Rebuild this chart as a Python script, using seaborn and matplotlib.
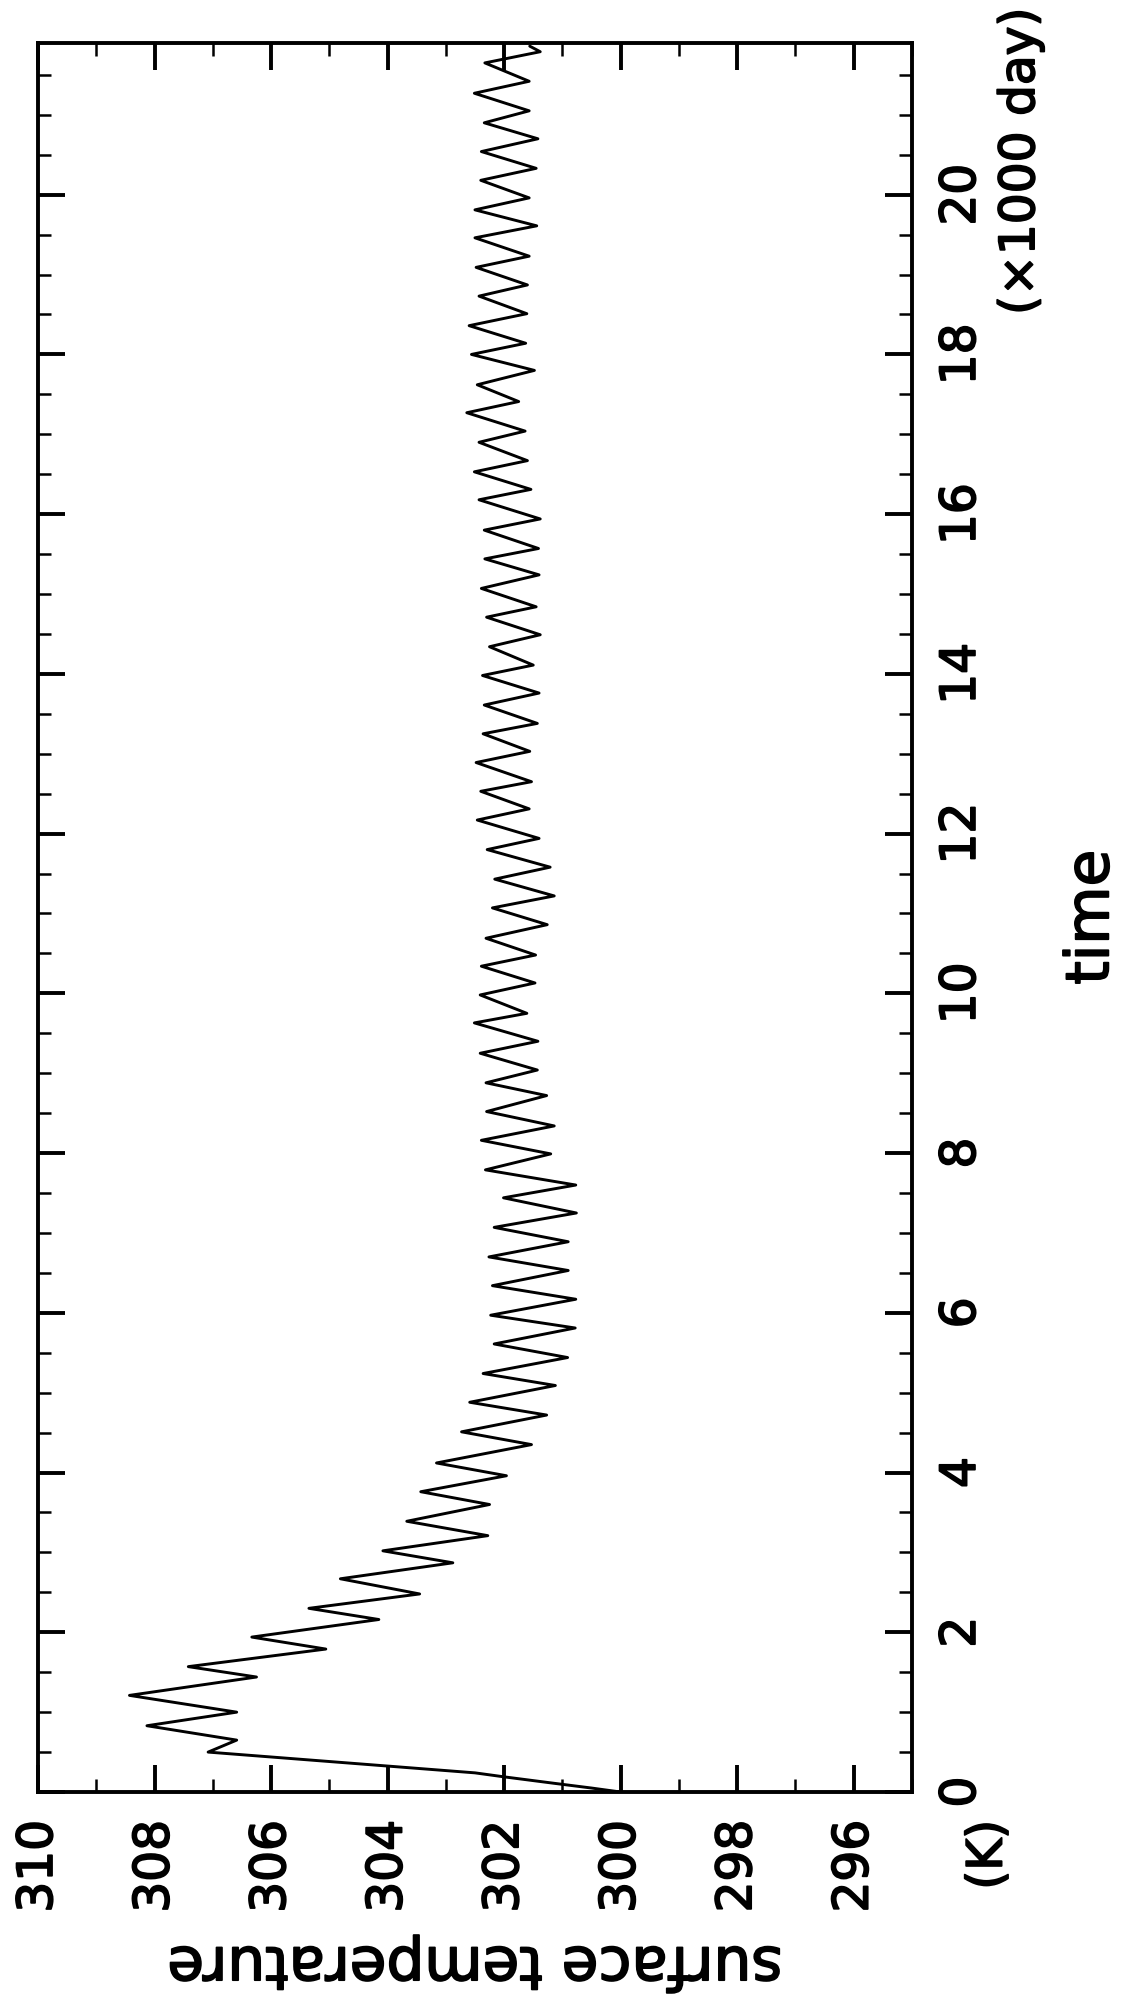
import numpy as np
import pandas as pd
import seaborn as sns
import matplotlib
matplotlib.use("Agg")
from matplotlib import pyplot as plt
from matplotlib import patheffects
from matplotlib.ticker import MultipleLocator, FixedLocator

# time in units of 1000 days, surface temperature in K (turning points)
kday = [0.00, 0.05, 0.11, 0.19, 0.24, 0.50, 0.65, 0.83, 1.00, 1.21,
        1.44, 1.57, 1.79, 1.94, 2.16, 2.30, 2.48, 2.67, 2.87, 3.02,
        3.21, 3.39, 3.60, 3.76, 3.96, 4.12, 4.35, 4.51, 4.72, 4.88,
        5.09, 5.24, 5.44, 5.61, 5.81, 5.97, 6.17, 6.34, 6.53, 6.70,
        6.89, 7.07, 7.25, 7.44, 7.60, 7.79, 7.99, 8.16, 8.34, 8.52,
        8.72, 8.88, 9.04, 9.25, 9.40, 9.63, 9.75, 9.98, 10.13, 10.34,
        10.48, 10.69, 10.86, 11.07, 11.22, 11.43, 11.58, 11.80, 11.94, 12.17,
        12.31, 12.53, 12.65, 12.89, 13.03, 13.25, 13.38, 13.61, 13.76, 13.98,
        14.11, 14.34, 14.49, 14.71, 14.84, 15.07, 15.24, 15.44, 15.57, 15.80,
        15.94, 16.18, 16.31, 16.53, 16.67, 16.90, 17.04, 17.27, 17.41, 17.62,
        17.80, 18.00, 18.14, 18.36, 18.51, 18.73, 18.87, 19.09, 19.23, 19.46,
        19.61, 19.81, 19.96, 20.18, 20.33, 20.54, 20.70, 20.90, 21.05, 21.27,
        21.42, 21.65, 21.79, 21.86]
temp = [300.00, 300.50, 301.15, 302.00, 302.50, 307.08, 306.59, 308.13, 306.59, 308.43,
        306.25, 307.42, 305.06, 306.33, 304.15, 305.35, 303.45, 304.81, 302.88, 304.08,
        302.28, 303.67, 302.25, 303.43, 301.96, 303.16, 301.53, 302.73, 301.27, 302.59,
        301.12, 302.36, 300.91, 302.17, 300.78, 302.23, 300.77, 302.20, 300.90, 302.26,
        300.90, 302.17, 300.76, 302.01, 300.77, 302.32, 301.20, 302.39, 301.14, 302.30,
        301.27, 302.31, 301.43, 302.41, 301.42, 302.51, 301.61, 302.41, 301.47, 302.39,
        301.46, 302.31, 301.26, 302.20, 301.14, 302.16, 301.21, 302.29, 301.40, 302.46,
        301.57, 302.40, 301.53, 302.48, 301.56, 302.36, 301.43, 302.34, 301.40, 302.37,
        301.50, 302.25, 301.38, 302.30, 301.45, 302.39, 301.40, 302.33, 301.41, 302.34,
        301.38, 302.43, 301.54, 302.51, 301.60, 302.43, 301.64, 302.64, 301.75, 302.46,
        301.48, 302.56, 301.63, 302.60, 301.61, 302.43, 301.60, 302.48, 301.57, 302.50,
        301.44, 302.50, 301.57, 302.40, 301.45, 302.39, 301.42, 302.34, 301.57, 302.51,
        301.57, 302.33, 301.38, 301.56]

temp_ticks = [310, 308, 306, 304, 302, 300, 298, 296]
time_ticks = [0, 2, 4, 6, 8, 10, 12, 14, 16, 18, 20]

sns.set_style("white")
plt.rcParams['font.family'] = ['DejaVu Sans']
plt.rcParams['text.color'] = 'black'
plt.rcParams['xtick.color'] = 'black'
plt.rcParams['ytick.color'] = 'black'

# the reference lettering is drawn with a heavier stroke
heavy = [patheffects.withStroke(linewidth=1.3, foreground="black")]

df = pd.DataFrame({"kday": kday, "temp": temp})

fig = plt.figure(figsize=(11.21, 20.16), dpi=100)
ax = fig.add_axes([0.0339, 0.1111, 0.7796, 0.8676])

# the figure is drawn turned on its side: time runs upward, temperature leftward
sns.lineplot(data=df, x="temp", y="kday", sort=False, estimator=None,
             color="black", linewidth=2.1, ax=ax)
for ln in ax.get_lines():
    ln.set_solid_joinstyle("round")
ax.set_xlabel("")
ax.set_ylabel("")

ax.set_xlim(310, 295)
ax.set_ylim(0, 21.9)
ax.xaxis.set_major_locator(FixedLocator(temp_ticks))
ax.xaxis.set_minor_locator(MultipleLocator(1))
ax.yaxis.set_major_locator(FixedLocator(time_ticks))
ax.yaxis.set_minor_locator(MultipleLocator(0.5))
ax.set_xticklabels([str(t) for t in temp_ticks])
ax.set_yticklabels([str(t) for t in time_ticks])

for sp in ax.spines.values():
    sp.set_linewidth(2.8)
    sp.set_color("black")

ax.tick_params(which="both", direction="in", top=True, bottom=True,
               left=True, right=True, labelleft=False, labelright=True,
               labeltop=False, labelbottom=True, color="black",
               labelcolor="black")
ax.tick_params(which="major", length=19.5, width=2.8, labelsize=35)
ax.tick_params(which="minor", length=9.5, width=1.8)
ax.tick_params(axis="x", which="major", labelrotation=90, pad=20)
ax.tick_params(axis="y", which="major", labelrotation=90, pad=18)
for lab in ax.get_yticklabels():
    lab.set_va("center")
    lab.set_ha("left")
    lab.set_path_effects(heavy)
for lab in ax.get_xticklabels():
    lab.set_path_effects(heavy)

fig.text(0.881, 0.0972, "(K)", rotation=90, ha="center", va="top",
         fontsize=35, path_effects=heavy)
fig.text(0.910, 0.920, "(\u00d71000 day)", rotation=90, ha="center",
         va="center", fontsize=35, path_effects=heavy)
fig.text(0.4237, 0.0258, "surface temperature", rotation=180, ha="center",
         va="center", fontsize=43, path_effects=heavy)
fig.text(0.974, 0.545, "time", rotation=90, ha="center", va="center",
         fontsize=43, path_effects=heavy)

fig.savefig("out.png", dpi=100, facecolor="white")
